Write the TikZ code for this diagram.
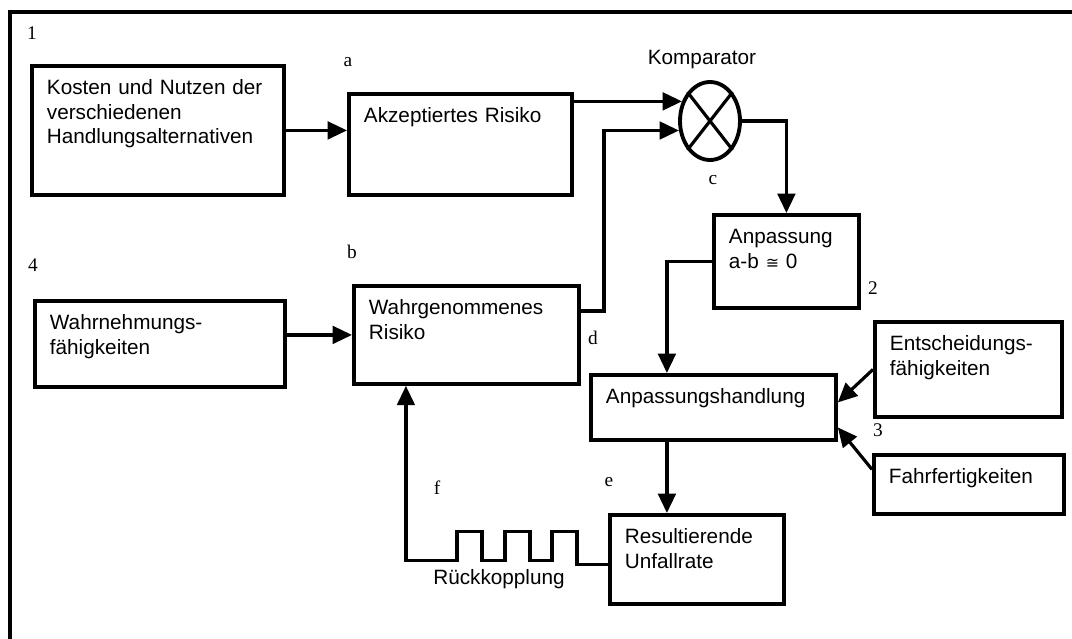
\documentclass[tikz,border=0pt]{standalone}
\usepackage{fontspec}
\setmainfont{Liberation Sans}
\newfontfamily\numfont{Liberation Serif}
\newfontfamily\symfont{DejaVu Sans}
\usetikzlibrary{arrows.meta,shapes.geometric}

\tikzset{
  box/.style={draw, line width=2.2pt, anchor=north west, align=left,
    inner xsep=0.3cm, inner ysep=0pt, text height=0.58cm},
  tag/.style={font=\fontsize{11}{13}\numfont},
  link/.style={->, line width=1.8pt},
}

\begin{document}
\begin{tikzpicture}[x=0.02cm, y=-0.02cm,
    >={Triangle[length=11pt, width=10pt]},
    font=\fontsize{11.8}{13.8}\selectfont]

  \useasboundingbox (0,0) rectangle (1072,639);
  \draw[line width=2pt] (10,639) -- (10,12) -- (1072,12);

  \node[box, text width=4.44cm, text depth=2.0cm] (kosten) at (30,64)
    {Kosten und Nutzen der\\verschiedenen\\Handlungsalternativen};
  \node[box, text width=3.86cm, text depth=1.44cm] (akz) at (347,92)
    {Akzeptiertes Risiko};
  \node[box, text width=2.3cm, text depth=1.28cm] (anp) at (712,213)
    {Anpassung\\a-b {\symfont\small ≅} 0};
  \node[box, text width=3.9cm, text depth=1.38cm] (wahrg) at (352,284)
    {Wahrgenommenes\\Risiko};
  \node[box, text width=4.4cm, text depth=1.14cm] (wahrn) at (33,299)
    {Wahrnehmungs-\\fähigkeiten};
  \node[box, text width=3.14cm, text depth=1.32cm] (entsch) at (873,320)
    {Entscheidungs-\\fähigkeiten};
  \node[box, text width=4.3cm, text depth=0.72cm] (handlung) at (589,373)
    {Anpassungshandlung};
  \node[box, text width=3.2cm, text depth=0.6cm] (fahr) at (872,453)
    {Fahrfertigkeiten};
  \node[box, text width=2.88cm, text depth=1.2cm] (result) at (608,513)
    {Resultierende\\Unfallrate};

  % comparator
  \node[ellipse, draw, line width=2.2pt, minimum width=1.2cm,
    minimum height=1.56cm, inner sep=0pt] (komp) at (710,121) {};
  \draw[line width=1.8pt] (komp.north west) -- (komp.south east)
    (komp.north east) -- (komp.south west);
  \node (kompname) at (702,60) {Komparator};

  \draw[link] (kosten.east) -- (kosten.east -| akz.west);
  \draw[link] (akz.east |- komp.145) -- (komp.145);
  \draw[link] ([yshift=0.48cm]wahrg.east) -| ([xshift=-1.5cm]komp.197) -- (komp.197);
  \draw[link] (komp.east) -| (anp.north);
  \draw[link] (anp.west) -| ([xshift=-0.93cm]handlung.north);
  \draw[link] ([xshift=-0.93cm]handlung.south) -- ([xshift=-0.93cm]handlung.south |- result.north);
  \draw[link] (wahrg.west -| wahrn.east) -- (wahrg.west);
  \draw[link] (entsch.west) -- ([yshift=0.1cm]handlung.east);
  \draw[link] ([yshift=0.3cm]fahr.west) -- ([yshift=-0.4cm]handlung.east);

  % feedback loop
  \draw[link] ([yshift=-0.1cm]result.west) -- ++(-31,0) -- ++(0,-33)
    -- ++(-25,0) -- ++(0,29) -- ++(-22,0) -- ++(0,-29) -- ++(-25,0)
    -- ++(0,29) -- ++(-23,0) -- ++(0,-29) -- ++(-25,0) -- ++(0,29)
    -| ([xshift=-1.21cm]wahrg.south);
  \node (rueck) at (499,579) {Rückkopplung};

  \node[tag] (n1) at (32,33) {1};
  \node[tag] (n2) at (873,288) {2};
  \node[tag] (n3) at (878,430) {3};
  \node[tag] (n4) at (33,265) {4};
  \node[tag] (la) at (348,62) {a};
  \node[tag] (lb) at (352,252) {b};
  \node[tag] (lc) at (713,180) {c};
  \node[tag] (ld) at (593,338) {d};
  \node[tag] (le) at (609,482) {e};
  \node[tag] (lf) at (437,488) {f};

\end{tikzpicture}
\end{document}
